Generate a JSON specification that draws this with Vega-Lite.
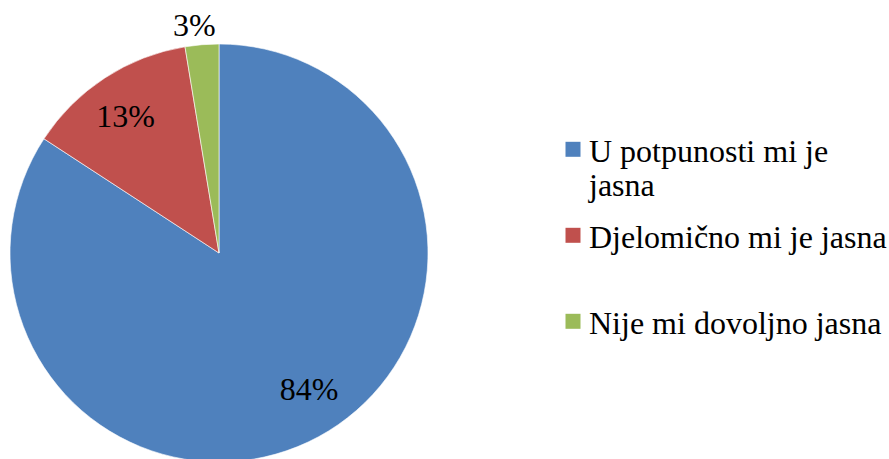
{
  "$schema": "https://vega.github.io/schema/vega-lite/v6.json",
  "width": 438,
  "height": 412,
  "autosize": "none",
  "padding": {"top": 47, "left": 0, "right": 451, "bottom": 0},
  "background": "white",
  "view": {"stroke": null},
  "data": {
    "values": [
      {"category": "U potpunosti mi je jasna", "share": 0.842},
      {"category": "Djelomično mi je jasna", "share": 0.132},
      {"category": "Nije mi dovoljno jasna", "share": 0.026}
    ]
  },
  "encoding": {
    "theta": {"field": "share", "type": "quantitative", "stack": true},
    "order": {"field": "share", "type": "quantitative", "sort": "descending"}
  },
  "layer": [
    {
      "mark": {"type": "arc", "radius": 209, "stroke": "white", "strokeWidth": 0.6},
      "encoding": {
        "color": {
          "field": "category",
          "type": "nominal",
          "scale": {
            "domain": ["U potpunosti mi je jasna", "Djelomično mi je jasna", "Nije mi dovoljno jasna"],
            "range": ["#4F81BD", "#C0504D", "#9BBB59"]
          },
          "legend": {
            "title": null,
            "orient": "none",
            "legendX": 557,
            "legendY": 74,
            "symbolType": "M-1,0.64L1,0.64L1,2.64L-1,2.64Z",
            "symbolSize": 225,
            "symbolStrokeWidth": 0,
            "symbolOpacity": 1,
            "labelFont": "Liberation Serif",
            "labelFontSize": 32,
            "labelColor": "black",
            "labelLimit": 400,
            "labelOffset": 0,
            "labelBaseline": "top",
            "rowPadding": 5,
            "gridAlign": "all",
            "labelExpr": "datum.label == 'U potpunosti mi je jasna' ? ['U potpunosti mi je', 'jasna'] : datum.label"
          }
        }
      }
    },
    {
      "mark": {"type": "text", "radius": 162, "dx": 13, "dy": -5, "font": "Liberation Serif", "fontSize": 32, "color": "black"},
      "encoding": {
        "text": {"field": "share", "type": "quantitative", "format": ".0%"},
        "opacity": {"condition": {"test": "datum.share > 0.5", "value": 1}, "value": 0}
      }
    },
    {
      "mark": {"type": "text", "radius": 162, "dx": -5, "font": "Liberation Serif", "fontSize": 32, "color": "black"},
      "encoding": {
        "text": {"field": "share", "type": "quantitative", "format": ".0%"},
        "opacity": {"condition": {"test": "datum.share > 0.05 && datum.share < 0.5", "value": 1}, "value": 0}
      }
    },
    {
      "mark": {"type": "text", "radius": 229, "dx": -6, "dy": 1, "font": "Liberation Serif", "fontSize": 32, "color": "black"},
      "encoding": {
        "text": {"field": "share", "type": "quantitative", "format": ".0%"},
        "opacity": {"condition": {"test": "datum.share < 0.05", "value": 1}, "value": 0}
      }
    }
  ]
}
